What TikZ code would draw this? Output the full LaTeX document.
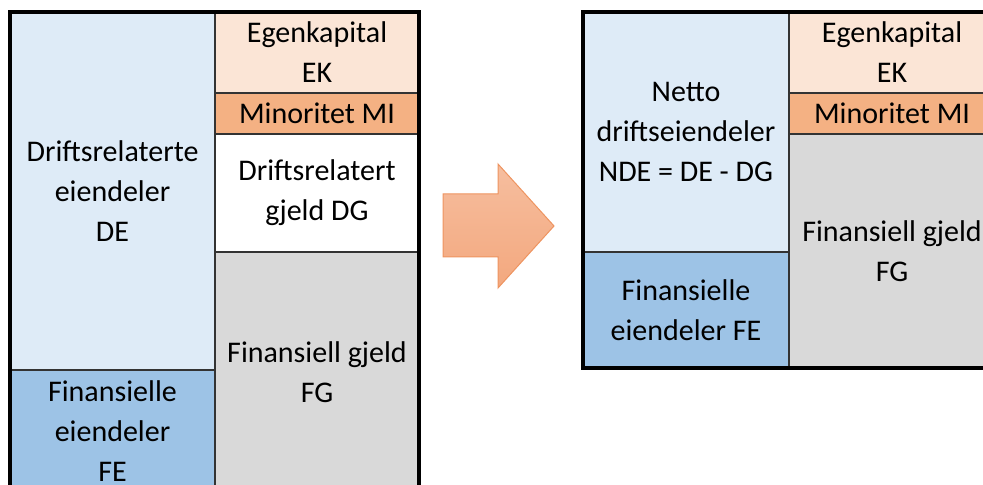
\documentclass[tikz,border=0pt]{standalone}
\usepackage{fontspec}
\setmainfont{Carlito}
\usetikzlibrary{positioning}

\definecolor{deblue}{HTML}{DEEBF7}
\definecolor{feblue}{HTML}{9DC3E6}
\definecolor{ekpeach}{HTML}{FBE5D6}
\definecolor{miorange}{HTML}{F4B183}
\definecolor{fggray}{HTML}{D9D9D9}
\definecolor{arrowtop}{HTML}{F6BE9F}
\definecolor{arrowbot}{HTML}{F3A87E}
\definecolor{arrowline}{HTML}{EE9460}

\begin{document}
\begin{tikzpicture}[
      node distance=0pt,
      cell/.style={draw=black!80, line width=0.8pt, inner sep=0pt, outer sep=0pt,
        align=center, font=\fontsize{15}{20}\selectfont},
      frame/.style={draw=black, line width=1.6pt},
      bigarrow/.style={draw=arrowline, line width=0.5pt, top color=arrowtop, bottom color=arrowbot},
      ]
  \useasboundingbox (0,0) rectangle (491.5pt,-242.5pt);
  \clip (0,0) rectangle (491.5pt,-242.5pt);

  % balance before: assets left, claims right
  \node[cell, fill=deblue, minimum width=102.5pt, minimum height=179pt, anchor=north west] (de) at (5pt,-6pt) {Driftsrelaterte\\eiendeler\\DE};
  \node[cell, fill=feblue, minimum width=102.5pt, minimum height=61.5pt, below=of de] (fe) {Finansielle\\eiendeler\\FE};
  \node[cell, fill=ekpeach, minimum width=102pt, minimum height=40.5pt, anchor=north west] (ek) at (de.north east) {Egenkapital\\EK};
  \node[cell, fill=miorange, minimum width=102pt, minimum height=20.5pt, below=of ek] (mi) {Minoritet MI};
  \node[cell, fill=white, minimum width=102pt, minimum height=59pt, below=of mi] (dg) {Driftsrelatert\\gjeld DG};
  \node[cell, fill=fggray, minimum width=102pt, minimum height=120.5pt, below=of dg] (fg) {Finansiell gjeld\\FG};
  \draw[frame] (de.north west) rectangle (fg.south east);

  % block arrow
  \path[bigarrow] (221.5pt,-97pt) -- (249pt,-97pt) -- (249pt,-82pt) -- (277pt,-113pt)
    -- (249pt,-144pt) -- (249pt,-128.5pt) -- (221.5pt,-128.5pt) -- cycle;

  % balance after: DG netted against DE
  \node[cell, fill=deblue, minimum width=103pt, minimum height=120pt, anchor=north west] (nde) at (291.5pt,-6pt) {Netto\\driftseiendeler\\NDE = DE - DG};
  \node[cell, fill=feblue, minimum width=103pt, minimum height=58pt, below=of nde] (nfe) {Finansielle\\eiendeler FE};
  \node[cell, fill=ekpeach, minimum width=103pt, minimum height=40.5pt, anchor=north west] (nek) at (nde.north east) {Egenkapital\\EK};
  \node[cell, fill=miorange, minimum width=103pt, minimum height=20.5pt, below=of nek] (nmi) {Minoritet MI};
  \node[cell, fill=fggray, minimum width=103pt, minimum height=117pt, below=of nmi] (nfg) {Finansiell gjeld\\FG};
  \draw[frame] (nde.north west) rectangle (nfg.south east);
\end{tikzpicture}
\end{document}
